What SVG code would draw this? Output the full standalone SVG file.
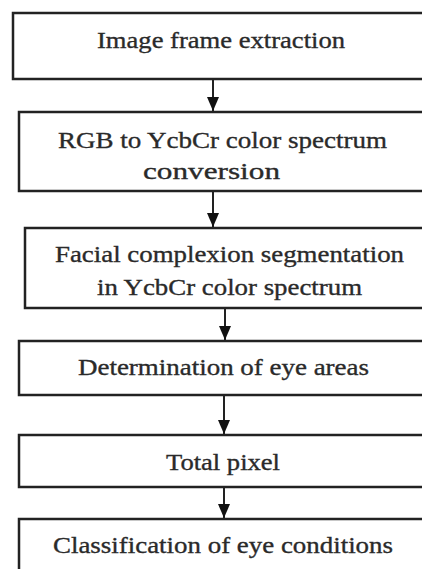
<svg xmlns="http://www.w3.org/2000/svg" width="422" height="569" viewBox="0 0 422 569">
<style>
.box{fill:#fff;stroke:#222;stroke-width:2.5}
.t{font-family:"Liberation Serif","Times New Roman",serif;font-size:24px;fill:#2a2a2a;stroke:#2a2a2a;stroke-width:0.35;text-anchor:middle}
.c{stroke:#222;stroke-width:2;fill:none}
</style>
<defs>
<marker id="ah" viewBox="0 0 14 12" refX="14" refY="6" markerWidth="14" markerHeight="12" markerUnits="userSpaceOnUse" orient="auto">
<path d="M0,0 L14,6 L0,12 Z" fill="#111"/>
</marker>
</defs>
<rect width="422" height="569" fill="#fff"/>
<g id="connectors">
<line class="c" x1="213" y1="80" x2="213" y2="111" marker-end="url(#ah)"/>
<line class="c" x1="213" y1="192" x2="213" y2="227" marker-end="url(#ah)"/>
<line class="c" x1="225" y1="309" x2="225" y2="340" marker-end="url(#ah)"/>
<line class="c" x1="224" y1="396" x2="224" y2="434" marker-end="url(#ah)"/>
<line class="c" x1="224" y1="488" x2="224" y2="518" marker-end="url(#ah)"/>
</g>
<g id="n1"><rect class="box" x="13" y="13" width="420" height="66"/><text class="t" x="221" y="48" textLength="248" lengthAdjust="spacingAndGlyphs">Image frame extraction</text></g>
<g id="n2"><rect class="box" x="19" y="112" width="420" height="79"/><text class="t" x="222.5" y="148" textLength="329" lengthAdjust="spacingAndGlyphs">RGB to YcbCr color spectrum</text><text class="t" x="211.5" y="179" textLength="137" lengthAdjust="spacingAndGlyphs">conversion</text></g>
<g id="n3"><rect class="box" x="25" y="228" width="420" height="80"/><text class="t" x="229.5" y="262" textLength="349" lengthAdjust="spacingAndGlyphs">Facial complexion segmentation</text><text class="t" x="229.5" y="295" textLength="265" lengthAdjust="spacingAndGlyphs">in YcbCr color spectrum</text></g>
<g id="n4"><rect class="box" x="19" y="341" width="420" height="54"/><text class="t" x="223.5" y="375" textLength="291" lengthAdjust="spacingAndGlyphs">Determination of eye areas</text></g>
<g id="n5"><rect class="box" x="19" y="435" width="420" height="52"/><text class="t" x="223" y="470" textLength="114" lengthAdjust="spacingAndGlyphs">Total pixel</text></g>
<g id="n6"><rect class="box" x="19" y="519" width="420" height="70"/><text class="t" x="223" y="553" textLength="340" lengthAdjust="spacingAndGlyphs">Classification of eye conditions</text></g>
</svg>
